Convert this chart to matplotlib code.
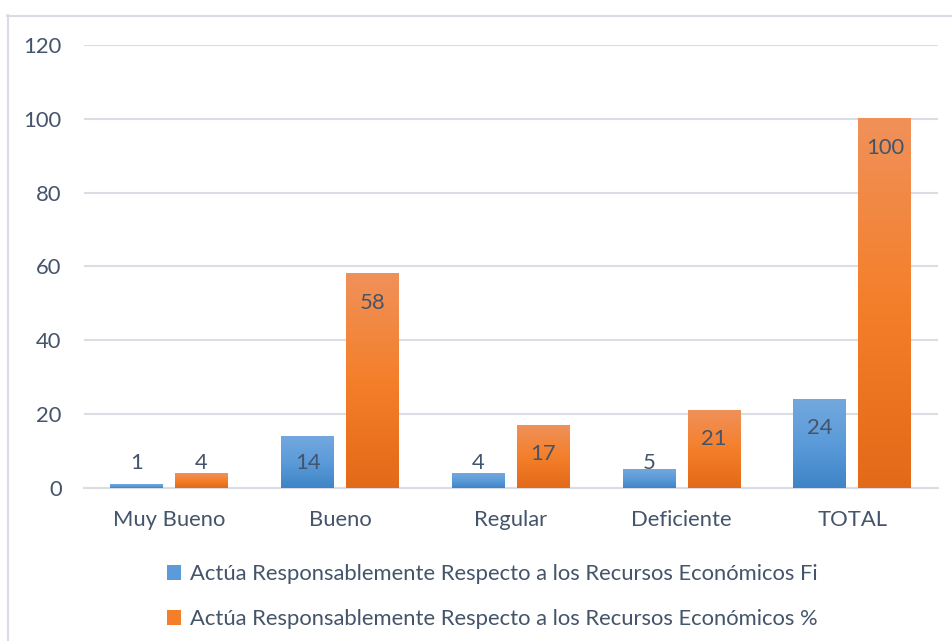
import matplotlib
matplotlib.use("Agg")
import matplotlib.pyplot as plt
import numpy as np
from matplotlib.colors import LinearSegmentedColormap
from matplotlib.patches import Patch
from matplotlib.lines import Line2D

categories = ["Muy Bueno", "Bueno", "Regular", "Deficiente", "TOTAL"]
fi_values = [1, 14, 4, 5, 24]
pct_values = [4, 58, 17, 21, 100]
series_names = [
    "Actúa Responsablemente Respecto a los Recursos Económicos Fi",
    "Actúa Responsablemente Respecto a los Recursos Económicos %",
]
yticks = [0, 20, 40, 60, 80, 100, 120]

plt.rcParams['font.family'] = ['Lato', 'DejaVu Sans']
text_color = '#44546a'
grid_color = '#dadee4'
fs = 15.8

fig = plt.figure(figsize=(9.52, 6.41), dpi=100)
ax = fig.add_axes([0.088, 0.2387, 0.897, 0.6911])

x = np.arange(len(categories))
width = 0.31
off = 0.19

blue_cmap = LinearSegmentedColormap.from_list("b", ["#3f84c6", "#5b9bd9", "#73a8de"])
orange_cmap = LinearSegmentedColormap.from_list("o", ["#e36a18", "#f47f2a", "#f0915a"])

bars1 = ax.bar(x - off, fi_values, width, facecolor='none', edgecolor='none', zorder=3)
bars2 = ax.bar(x + off, pct_values, width, facecolor='none', edgecolor='none', zorder=3)

grad = np.linspace(0, 1, 256).reshape(-1, 1)
for bars, cmap in ((bars1, blue_cmap), (bars2, orange_cmap)):
    for b in bars:
        x0, w, h = b.get_x(), b.get_width(), b.get_height()
        ax.imshow(grad, cmap=cmap, origin='lower', aspect='auto',
                  extent=(x0, x0 + w, 0, h), zorder=3)

ax.set_xlim(-0.5, len(categories) - 0.5)
ax.set_ylim(0, 120)
ax.set_yticks(yticks)
ax.set_xticks(x)
ax.set_xticklabels(categories)
ax.grid(axis='y', color=grid_color, linewidth=1.5, zorder=0)
ax.set_axisbelow(True)
for s in ax.spines.values():
    s.set_visible(False)
ax.spines['bottom'].set_visible(True)
ax.spines['bottom'].set_color(grid_color)
ax.spines['bottom'].set_linewidth(1.5)
ax.tick_params(axis='both', length=0, colors=text_color, labelsize=fs)
ax.tick_params(axis='y', pad=16)
ax.tick_params(axis='x', pad=16)

# data labels (inside end, clamped near base for short bars)
ax_h_px = ax.get_position().height * fig.get_figheight() * fig.dpi
px_per_unit = ax_h_px / 120.0
for bars in (bars1, bars2):
    for b in bars:
        h = b.get_height()
        top_px = h * px_per_unit
        y_px = max(top_px - 29, 25)
        y_val = y_px / px_per_unit
        ax.text(b.get_x() + b.get_width() / 2, y_val, f"{int(h)}",
                ha='center', va='center', fontsize=fs, color=text_color, zorder=4)

handles = [Patch(facecolor='#5b9bd9', edgecolor='none'),
           Patch(facecolor='#f47f2a', edgecolor='none')]
leg = fig.legend(handles, series_names, loc='upper left',
                 bbox_to_anchor=(0.166, 0.134), frameon=False, ncol=1,
                 fontsize=fs, handlelength=0.65, handleheight=0.7,
                 handletextpad=0.4, labelspacing=1.15, borderaxespad=0)
for t in leg.get_texts():
    t.set_color(text_color)

# chart area border
fig.add_artist(Line2D([7 / 952, 1.0], [1 - 15.5 / 641] * 2, color='#d9dde3',
                      linewidth=1.5, transform=fig.transFigure))
fig.add_artist(Line2D([7.5 / 952] * 2, [0.0, 1 - 15 / 641], color='#d9dde3',
                      linewidth=1.5, transform=fig.transFigure))

fig.savefig("out.png", dpi=100)
